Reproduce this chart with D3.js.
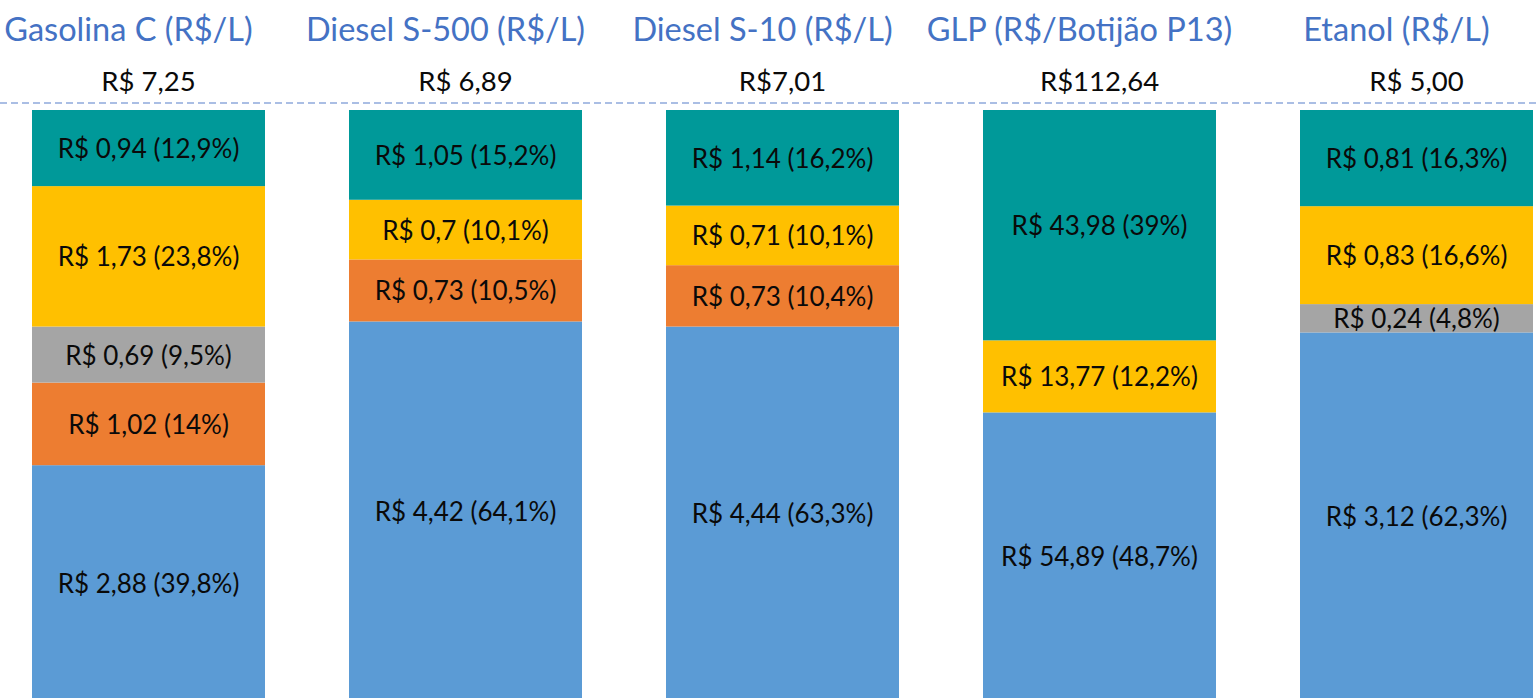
<!DOCTYPE html>
<html><head><meta charset="utf-8">
<script src="https://cdn.jsdelivr.net/npm/d3@7"></script>
<style>html,body{margin:0;padding:0;background:#fff;overflow:hidden}</style>
</head><body><svg id="c" width="1537" height="698"></svg>
<script>
const categories = ["Gasolina C (R$/L)", "Diesel S-500 (R$/L)", "Diesel S-10 (R$/L)", "GLP (R$/Botijão P13)", "Etanol (R$/L)"];
const totalLabels = ["R$ 7,25", "R$ 6,89", "R$7,01", "R$112,64", "R$ 5,00"];
const seriesNames = ["Realização do produtor", "Custo do biocombustível", "Tributos federais", "ICMS", "Distribuição e revenda"];
const realizacao = [2.88, 4.42, 4.44, 54.89, 3.12];
const biocombustivel = [1.02, 0.73, 0.73, 0, 0];
const federais = [0.69, 0, 0, 0, 0.24];
const icms = [1.73, 0.7, 0.71, 13.77, 0.83];
const distribuicao = [0.94, 1.05, 1.14, 43.98, 0.81];
const pctRealizacao = [39.8, 64.1, 63.3, 48.7, 62.3];
const pctBio = [14, 10.5, 10.4, 0, 0];
const pctFederais = [9.5, 0, 0, 0, 4.8];
const pctIcms = [23.8, 10.1, 10.1, 12.2, 16.6];
const pctDist = [12.9, 15.2, 16.2, 39, 16.3];
const seriesColors = ["#5B9BD5", "#ED7D31", "#A5A5A5", "#FFC000", "#009999"];

const values = [realizacao, biocombustivel, federais, icms, distribuicao];
const pcts = [pctRealizacao, pctBio, pctFederais, pctIcms, pctDist];

const rows = categories.map((c, i) => {
  const r = {cat: c};
  seriesNames.forEach((s, j) => { r[s] = pcts[j][i]; r[s + "_v"] = values[j][i]; });
  return r;
});

const stacked = d3.stack().keys(seriesNames).offset(d3.stackOffsetExpand)(rows);

const svg = d3.select("#c");
const x = d3.scaleBand().domain(categories).range([-10, 1575]).paddingInner(0.265).paddingOuter(0.1325);
const y = d3.scaleLinear().domain([0, 1]).range([700, 110]);
const font = "Lato, 'Open Sans', sans-serif";
const fmt = v => String(v).replace(".", ",");

// dashed reference line
svg.append("line").attr("x1", 0).attr("x2", 1537).attr("y1", 103).attr("y2", 103)
  .attr("stroke", "#8EA9DB").attr("stroke-width", 1.5).attr("stroke-dasharray", "7,4");

const g = svg.append("g");
stacked.forEach((layer, j) => {
  const key = layer.key;
  const gg = g.append("g").attr("fill", seriesColors[j]);
  gg.selectAll("rect").data(layer.filter(d => d.data[key] > 0)).join("rect")
    .attr("x", d => x(d.data.cat))
    .attr("width", x.bandwidth())
    .attr("y", d => y(d[1]))
    .attr("height", d => y(d[0]) - y(d[1]));
  g.append("g").selectAll("text").data(layer.filter(d => d.data[key] > 0)).join("text")
    .attr("x", d => x(d.data.cat) + x.bandwidth() / 2)
    .attr("y", d => (y(d[0]) + y(d[1])) / 2)
    .attr("text-anchor", "middle").attr("dominant-baseline", "central")
    .attr("font-family", font).attr("font-size", 26).attr("fill", "#0a0a0a")
    .text(d => "R$ " + fmt(d.data[key + "_v"]) + " (" + fmt(d.data[key]) + "%)");
});

// titles
svg.append("g").selectAll("text").data(categories).join("text")
  .attr("x", d => x(d) + x.bandwidth() / 2 - 20)
  .attr("y", 28)
  .attr("text-anchor", "middle").attr("dominant-baseline", "central")
  .attr("font-family", font).attr("font-size", 32.5).attr("fill", "#4472C4")
  .text(d => d);

// totals
svg.append("g").selectAll("text").data(categories).join("text")
  .attr("x", d => x(d) + x.bandwidth() / 2)
  .attr("y", 80)
  .attr("text-anchor", "middle").attr("dominant-baseline", "central")
  .attr("font-family", font).attr("font-size", 27.5).attr("fill", "#0a0a0a")
  .text((d, i) => totalLabels[i]);
</script>
</body></html>
